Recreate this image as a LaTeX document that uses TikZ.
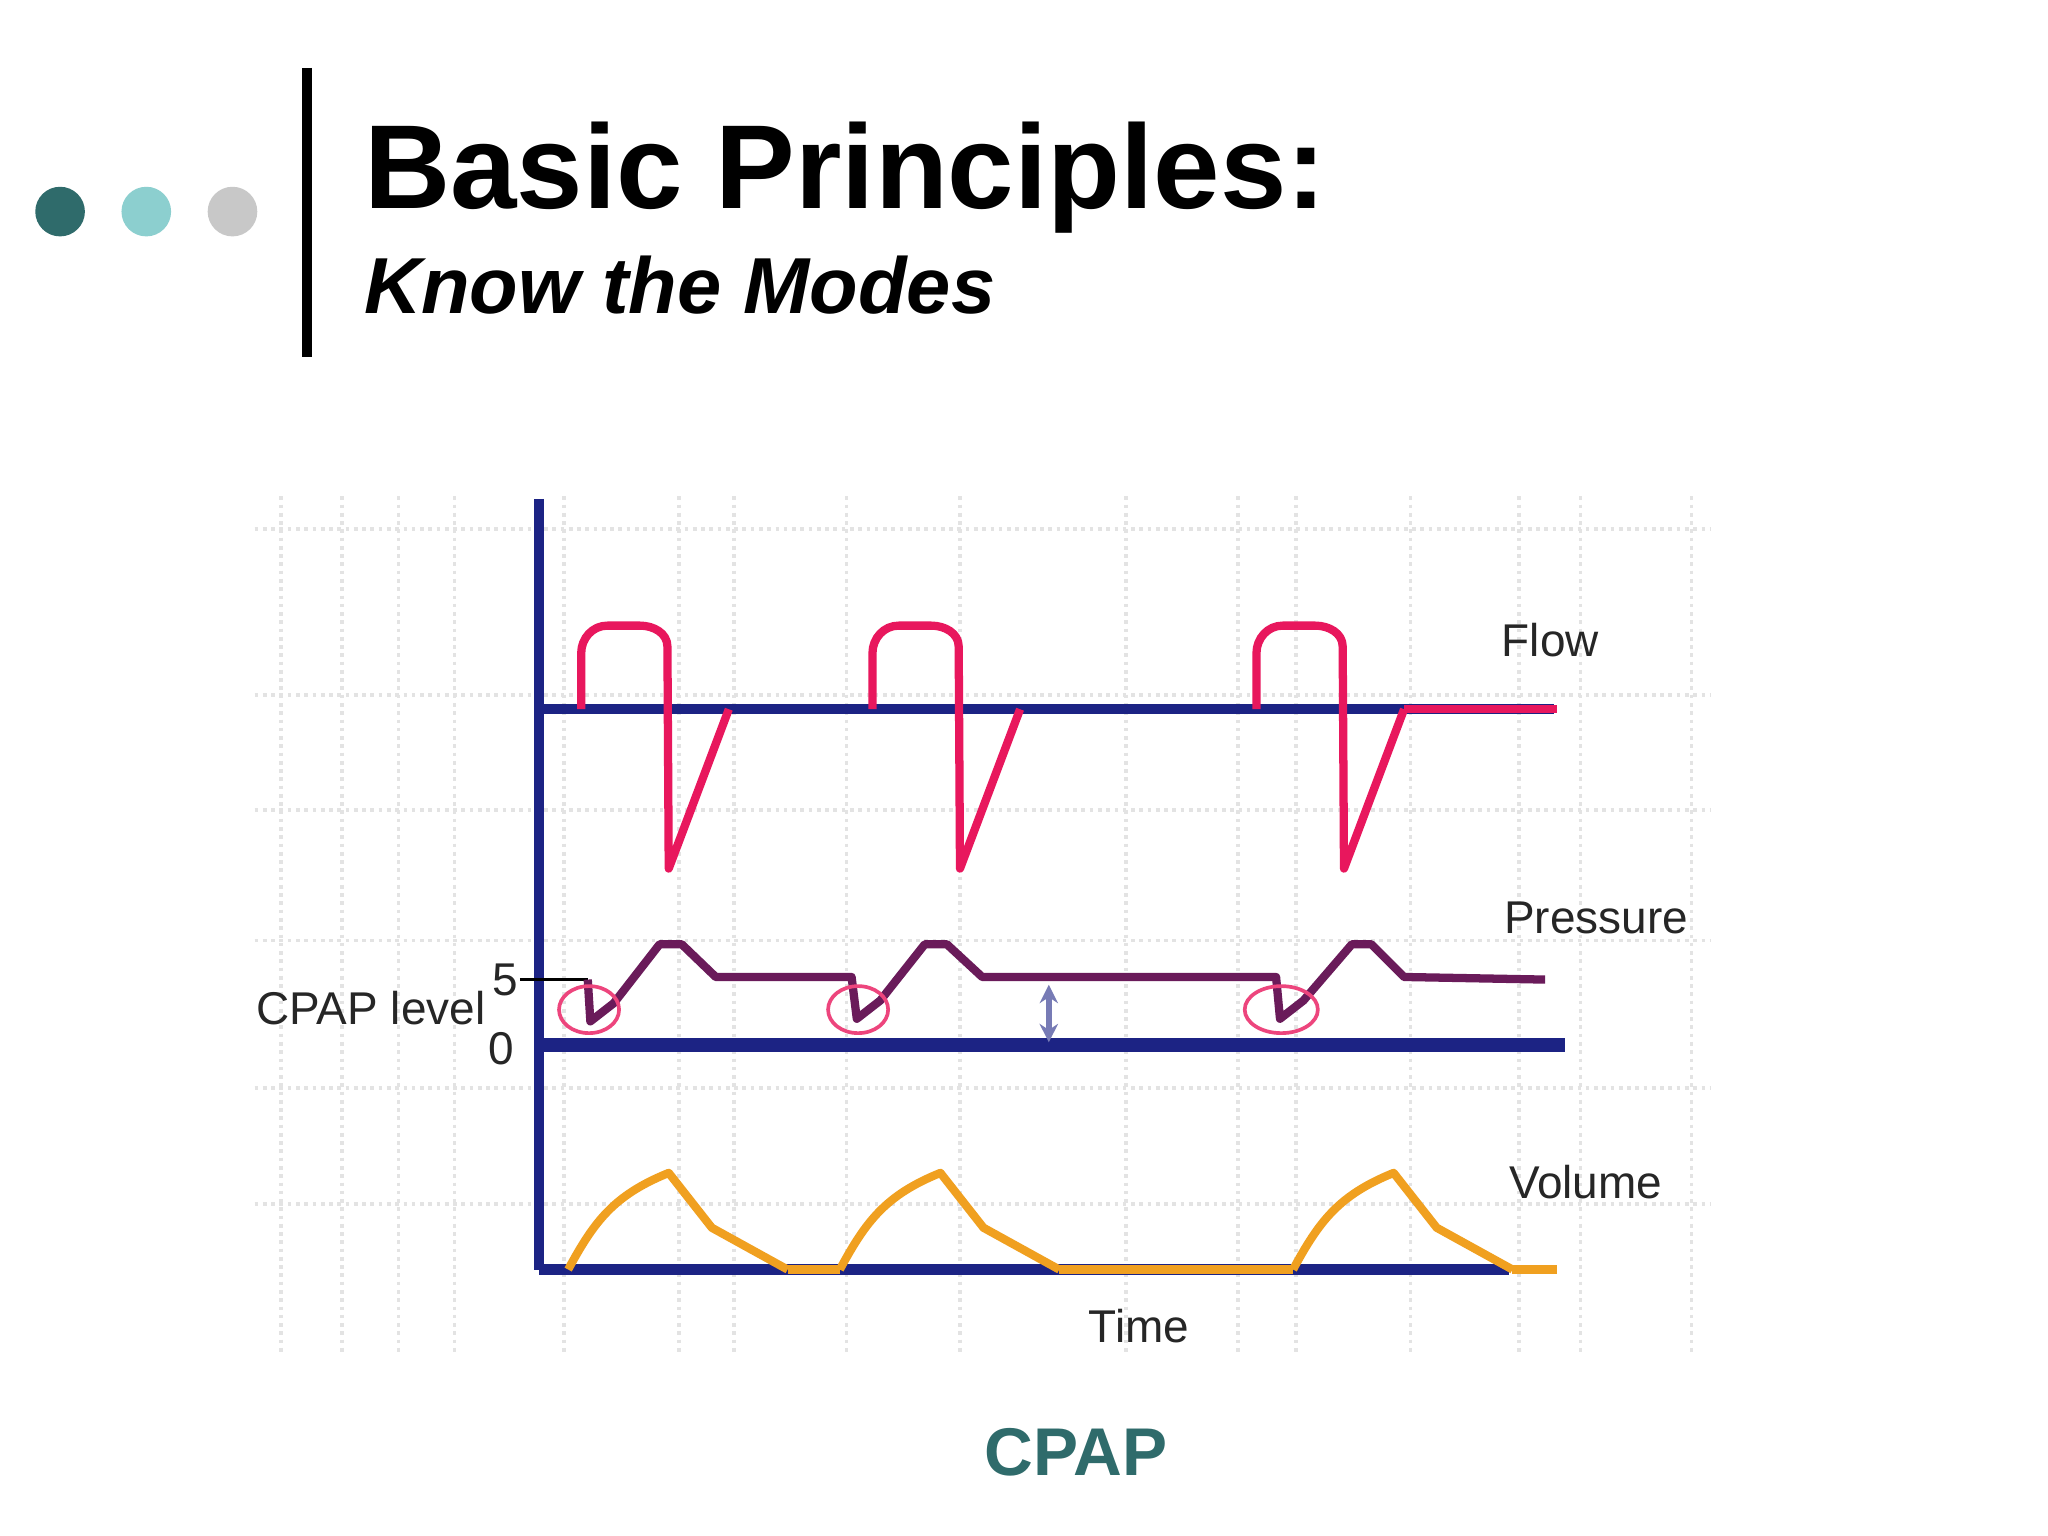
\documentclass[tikz,border=0pt]{standalone}
\usepackage{fontspec}
\setmainfont{Liberation Sans}
\usetikzlibrary{arrows.meta}
\definecolor{teal1}{HTML}{2F6B6B}
\definecolor{teal2}{HTML}{8CCFCF}
\definecolor{grey1}{HTML}{C8C8C8}
\definecolor{navy}{HTML}{1C2384}
\definecolor{flowred}{HTML}{E8175D}
\definecolor{presp}{HTML}{6A1B5A}
\definecolor{volo}{HTML}{F0A020}
\tikzset{grid/.style={gray!22,densely dotted,line width=0.8pt},
 lbl/.style={font=\fontsize{10}{11}\selectfont,text=black!85},
 curve/.style={line width=1.8pt,line join=round}}
\begin{document}
\begin{tikzpicture}[x=0.01cm,y=-0.01cm]
\fill[white] (0,0) rectangle (1568,1176);
\useasboundingbox (0,0) rectangle (1568,1176);
% header
\fill[teal1] (46,162) circle (19);
\fill[teal2] (112,162) circle (19);
\fill[grey1] (178,162) circle (19);
\draw[line width=2pt] (235,52) -- (235,273);
\node[anchor=base west,font=\bfseries\fontsize{26}{30}\selectfont,inner sep=0] (title) at (278,160) {Basic Principles:};
\node[anchor=base west,font=\bfseries\itshape\fontsize{17.3}{20}\selectfont,inner sep=0] (sub) at (278,240) {Know the Modes};
% grid
\foreach \x in {215,262,305,348,432,520,562,648,735,862,948,992,1080,1163,1210,1295}
  \draw[grid] (\x,380) -- (\x,1035);
\foreach \y in {405,532,620,720,833,922}
  \draw[grid] (195,\y) -- (1310,\y);
% axes
\draw[navy,line width=2.2pt] (413,382) -- (413,972);
\draw[navy,line width=2.2pt] (413,543) -- (1190,543);
\draw[navy,line width=3pt] (413,800) -- (1198,800);
\draw[navy,line width=2.2pt] (413,972) -- (1155,972);
% flow
\foreach \o in {0,223,517}{
 \draw[flowred,curve] ({445+\o},543) -- ({445+\o},500) to[out=90,in=180] ({465+\o},479) -- ({490+\o},479) to[out=0,in=90] ({511+\o},495) -- ({512+\o},665) -- ({558+\o},543);
}
\draw[flowred,curve] (1075,543) -- (1192,543);
% pressure
\draw[black,line width=0.6pt] (398,750) -- (450,750);
\draw[presp,curve] (450,750) -- (452,782) -- (470,768) -- (505,723) -- (522,723) -- (548,748) -- (652,748)
  -- (656,780) -- (674,766) -- (708,723) -- (725,723) -- (752,748) -- (977,748)
  -- (980,780) -- (998,766) -- (1035,723) -- (1050,723) -- (1075,748) -- (1183,750);
\foreach \c/\r in {451/23,657/23,981/28}
  \draw[flowred!80,line width=0.8pt] (\c,773) ellipse ({\r} and 18);
\draw[navy!60,line width=1.2pt,{Stealth[length=4pt,width=4pt]}-{Stealth[length=4pt,width=4pt]}] (803,754) -- (803,798);
\node[lbl] (five) at (387,750) {5};
\node[lbl] (zero) at (384,803) {0};
\node[lbl] (cpapl) at (284,772) {CPAP level};
% volume
\foreach \s/\o in {435/0,643/208,990/555}{
 \draw[volo,curve] (\s,972) .. controls ({\s+20},935) and ({470+\o},915) .. ({512+\o},898) -- ({545+\o},940) -- ({603+\o},972);
}
\draw[volo,curve] (603,972) -- (643,972);
\draw[volo,curve] (811,972) -- (990,972);
\draw[volo,curve] (1158,972) -- (1192,972);
% labels
\node[lbl] (flow) at (1187,490) {Flow};
\node[lbl] (press) at (1222,703) {Pressure};
\node[lbl] (vol) at (1214,905) {Volume};
\node[lbl] (time) at (872,1015) {Time};
\node[font=\bfseries\fontsize{14.7}{18}\selectfont,text=teal1] (cpap) at (824,1112) {CPAP};
\end{tikzpicture}
\end{document}
